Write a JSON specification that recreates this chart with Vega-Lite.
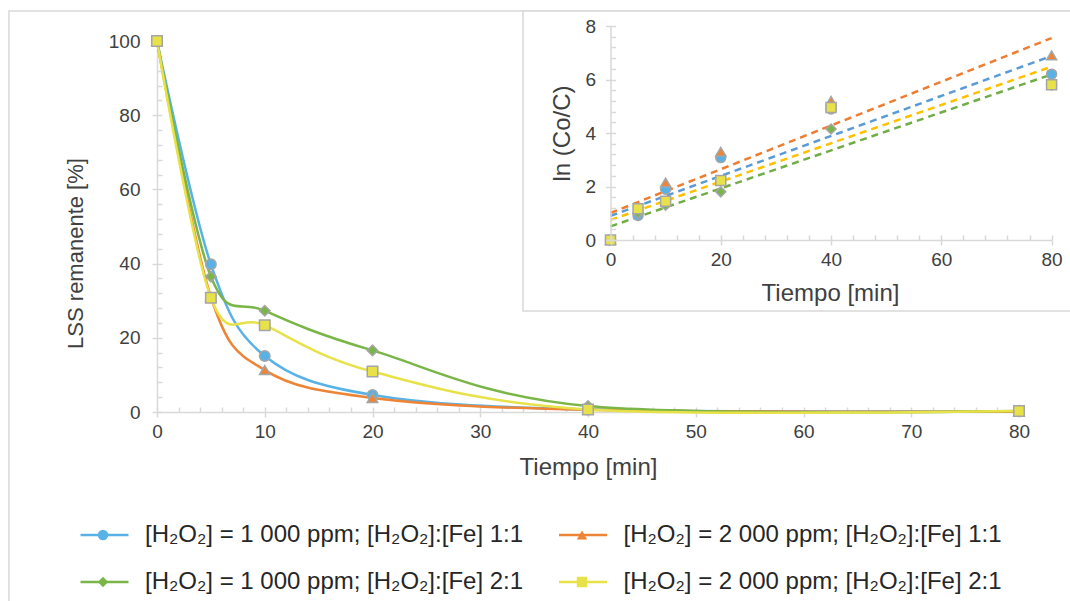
{
  "$schema": "https://vega.github.io/schema/vega-lite/v6.json",
  "width": 862,
  "height": 371,
  "autosize": {"type": "none"},
  "padding": {"left": 157, "top": 41, "right": 51, "bottom": 189},
  "background": "white",
  "config": {
    "font": "Liberation Sans",
    "view": {"stroke": null},
    "axis": {
      "domainColor": "#D9D9D9", "tickColor": "#D9D9D9", "domainWidth": 1.5, "tickWidth": 1.5,
      "labelColor": "#404040", "titleColor": "#404040", "labelFontSize": 19, "titleFontSize": 22,
      "titleFontWeight": "normal", "grid": false, "labelFont": "Liberation Sans", "titleFont": "Liberation Sans",
      "labelFlush": false, "labelOverlap": false
    },
    "legend": {"labelFont": "Liberation Sans"}
  },
  "datasets": {
    "main": [
      {"serie": "s1", "t": 0, "v": 100}, {"serie": "s1", "t": 5, "v": 39.8}, {"serie": "s1", "t": 10, "v": 15.1}, {"serie": "s1", "t": 20, "v": 4.6}, {"serie": "s1", "t": 40, "v": 0.7}, {"serie": "s1", "t": 80, "v": 0.2},
      {"serie": "s2", "t": 0, "v": 100}, {"serie": "s2", "t": 5, "v": 31}, {"serie": "s2", "t": 10, "v": 11.3}, {"serie": "s2", "t": 20, "v": 3.8}, {"serie": "s2", "t": 40, "v": 0.6}, {"serie": "s2", "t": 80, "v": 0.1},
      {"serie": "s3", "t": 0, "v": 100}, {"serie": "s3", "t": 5, "v": 36.5}, {"serie": "s3", "t": 10, "v": 27.3}, {"serie": "s3", "t": 20, "v": 16.6}, {"serie": "s3", "t": 40, "v": 1.6}, {"serie": "s3", "t": 80, "v": 0.3},
      {"serie": "s4", "t": 0, "v": 100}, {"serie": "s4", "t": 5, "v": 30.8}, {"serie": "s4", "t": 10, "v": 23.4}, {"serie": "s4", "t": 20, "v": 10.9}, {"serie": "s4", "t": 40, "v": 0.7}, {"serie": "s4", "t": 80, "v": 0.3}
    ],
    "inset": [
      {"serie": "s1", "t": 0, "v": 0}, {"serie": "s1", "t": 5, "v": 0.92}, {"serie": "s1", "t": 10, "v": 1.9}, {"serie": "s1", "t": 20, "v": 3.08}, {"serie": "s1", "t": 40, "v": 4.9}, {"serie": "s1", "t": 80, "v": 6.2},
      {"serie": "s2", "t": 0, "v": 0}, {"serie": "s2", "t": 5, "v": 1.17}, {"serie": "s2", "t": 10, "v": 2.15}, {"serie": "s2", "t": 20, "v": 3.3}, {"serie": "s2", "t": 40, "v": 5.2}, {"serie": "s2", "t": 80, "v": 6.9},
      {"serie": "s3", "t": 0, "v": 0}, {"serie": "s3", "t": 5, "v": 1.0}, {"serie": "s3", "t": 10, "v": 1.3}, {"serie": "s3", "t": 20, "v": 1.8}, {"serie": "s3", "t": 40, "v": 4.15}, {"serie": "s3", "t": 80, "v": 5.8},
      {"serie": "s4", "t": 0, "v": 0}, {"serie": "s4", "t": 5, "v": 1.17}, {"serie": "s4", "t": 10, "v": 1.45}, {"serie": "s4", "t": 20, "v": 2.22}, {"serie": "s4", "t": 40, "v": 4.95}, {"serie": "s4", "t": 80, "v": 5.8}
    ],
    "trend": [
      {"serie": "s1", "t": 0, "v": 0.9}, {"serie": "s1", "t": 80, "v": 6.88},
      {"serie": "s2", "t": 0, "v": 1.01}, {"serie": "s2", "t": 80, "v": 7.55},
      {"serie": "s3", "t": 0, "v": 0.51}, {"serie": "s3", "t": 80, "v": 6.19},
      {"serie": "s4", "t": 0, "v": 0.75}, {"serie": "s4", "t": 80, "v": 6.48}
    ],
    "one": [{}]
  },
  "layer": [
    {
      "layer": [
        {
          "data": {"name": "one"},
          "mark": {"type": "rect", "fill": null, "stroke": "#D9D9D9", "strokeWidth": 1.5},
          "encoding": {
            "x": {"datum": -13.74, "type": "quantitative", "scale": {"domain": [0, 80], "nice": false}, "axis": null},
            "x2": {"datum": 95},
            "y": {"datum": 108.1, "type": "quantitative", "scale": {"domain": [0, 100], "nice": false}, "axis": null},
            "y2": {"datum": -80}
          }
        },
        {
          "data": {"name": "main"},
          "mark": {"type": "line", "interpolate": "cardinal", "strokeWidth": 2.5},
          "encoding": {
            "x": {"field": "t", "type": "quantitative", "scale": {"domain": [0, 80], "nice": false},
              "axis": {"orient": "bottom", "values": [0, 10, 20, 30, 40, 50, 60, 70, 80], "tickSize": 5, "labelPadding": 5,
                "title": "Tiempo [min]", "titleFontSize": 24, "titleX": 431, "titleY": 55, "titleBaseline": "middle", "titleAlign": "center"}},
            "y": {"field": "v", "type": "quantitative", "scale": {"domain": [0, 100], "nice": false},
              "axis": {"orient": "left", "values": [0, 20, 40, 60, 80, 100], "tickSize": 5, "labelPadding": 12,
                "title": "LSS remanente [%]", "titleX": -82, "titleY": 212, "titleBaseline": "middle", "titleAlign": "center", "titleAngle": -90}},
            "stroke": {"field": "serie", "type": "nominal",
              "scale": {"domain": ["s1", "s2", "s3", "s4"], "range": ["#58B2E6", "#EE8436", "#7AB547", "#E8E24A"]},
              "legend": {"orient": "none", "legendX": -64.5, "legendY": 482, "columns": 2, "direction": "horizontal",
                "symbolType": "M-4.8,0H4.8", "symbolSize": 100, "symbolStrokeWidth": 2.5, "symbolFillColor": "transparent",
                "labelFontSize": 24, "labelColor": "#262626", "labelOffset": 28.5, "columnPadding": 30.5,
                "rowPadding": 23, "title": null, "padding": 0, "labelLimit": 0,
                "labelExpr": "datum.value == 's1' ? '[H₂O₂] = 1 000 ppm; [H₂O₂]:[Fe] 1:1' : datum.value == 's2' ? '[H₂O₂] = 2 000 ppm; [H₂O₂]:[Fe] 1:1' : datum.value == 's3' ? '[H₂O₂] = 1 000 ppm; [H₂O₂]:[Fe] 2:1' : '[H₂O₂] = 2 000 ppm; [H₂O₂]:[Fe] 2:1'"}}
          }
        },
        {
          "data": {"name": "main"},
          "mark": {"type": "point", "filled": true, "stroke": "#A5A5A5", "strokeWidth": 1.5, "opacity": 1, "size": 110},
          "encoding": {
            "x": {"field": "t", "type": "quantitative", "scale": {"domain": [0, 80], "nice": false},
              "axis": {"orient": "top", "offset": -371, "values": [0,2,4,6,8,10,12,14,16,18,20,22,24,26,28,30,32,34,36,38,40,42,44,46,48,50,52,54,56,58,60,62,64,66,68,70,72,74,76,78,80],
                "tickSize": 5, "labels": false, "domain": false, "title": null}},
            "y": {"field": "v", "type": "quantitative", "scale": {"domain": [0, 100], "nice": false},
              "axis": {"orient": "right", "offset": -862, "values": [0,4,8,12,16,20,24,28,32,36,40,44,48,52,56,60,64,68,72,76,80,84,88,92,96,100],
                "tickSize": 5, "labels": false, "domain": false, "title": null}},
            "fill": {"field": "serie", "type": "nominal", "scale": {"range": ["#58B2E6", "#EE8436", "#7AB547", "#E8E24A"]},
              "legend": {"orient": "none", "legendX": -66, "legendY": 482, "columns": 2, "direction": "horizontal", "symbolSize": 110, "symbolStrokeColor": "#A5A5A5",
                "symbolStrokeWidth": 1.5, "symbolOpacity": 1, "labelFontSize": 24, "labelOffset": 4, "columnPadding": 451,
                "rowPadding": 23, "title": null, "padding": 0, "labelLimit": 0, "labelExpr": "' '"}},
            "shape": {"field": "serie", "type": "nominal", "scale": {"range": ["circle", "triangle-up", "diamond", "square"]},
              "legend": {"orient": "none", "legendX": -66, "legendY": 482, "columns": 2, "direction": "horizontal", "symbolSize": 110, "symbolStrokeColor": "#A5A5A5",
                "symbolStrokeWidth": 1.5, "symbolOpacity": 1, "labelFontSize": 24, "labelOffset": 4, "columnPadding": 451,
                "rowPadding": 23, "title": null, "padding": 0, "labelLimit": 0, "labelExpr": "' '"}}
          }
        }
      ]
    },
    {
      "layer": [
        {
          "data": {"name": "one"},
          "mark": {"type": "rect", "fill": "white", "stroke": "#D9D9D9", "strokeWidth": 1.5},
          "encoding": {
            "x": {"datum": -15.87, "type": "quantitative", "scale": {"domain": [0, 80], "nice": false, "range": [453.5, 894.6]}, "axis": null},
            "x2": {"datum": 95},
            "y": {"datum": 8.56, "type": "quantitative", "scale": {"domain": [0, 8], "nice": false, "range": [199, -15]}, "axis": null},
            "y2": {"datum": -2.65}
          }
        },
        {
          "data": {"name": "trend"},
          "mark": {"type": "line", "strokeDash": [7, 5], "strokeWidth": 2.5},
          "encoding": {
            "x": {"field": "t", "type": "quantitative", "scale": {"domain": [0, 80], "nice": false, "range": [453.5, 894.6]},
              "axis": {"orient": "bottom", "offset": -172, "zindex": 1, "values": [0, 20, 40, 60, 80], "tickSize": 5, "labelPadding": 5,
                "title": "Tiempo [min]", "titleFontSize": 24, "titleX": 673, "titleY": 53, "titleBaseline": "middle", "titleAlign": "center"}},
            "y": {"field": "v", "type": "quantitative", "scale": {"domain": [0, 8], "nice": false, "range": [199, -15]},
              "axis": {"orient": "left", "offset": -453.5, "zindex": 1, "values": [0, 2, 4, 6, 8], "tickSize": 5, "labelPadding": 10,
                "title": "ln (Co/C)", "titleFontSize": 24, "titleX": -48.5, "titleY": 92, "titleBaseline": "middle", "titleAlign": "center", "titleAngle": -90}},
            "color": {"field": "serie", "type": "nominal",
              "scale": {"domain": ["s1", "s2", "s3", "s4"], "range": ["#5B9BD5", "#ED7D31", "#70AD47", "#FFC000"]}, "legend": null}
          }
        },
        {
          "data": {"name": "inset"},
          "mark": {"type": "point", "filled": true, "stroke": "#A5A5A5", "strokeWidth": 1.5, "opacity": 1, "size": 100},
          "encoding": {
            "x": {"field": "t", "type": "quantitative", "scale": {"domain": [0, 80], "nice": false, "range": [453.5, 894.6]},
              "axis": {"orient": "top", "offset": -199, "zindex": 1, "values": [0,4,8,12,16,20,24,28,32,36,40,44,48,52,56,60,64,68,72,76,80],
                "tickSize": 5, "labels": false, "domain": false, "title": null}},
            "y": {"field": "v", "type": "quantitative", "scale": {"domain": [0, 8], "nice": false, "range": [199, -15]},
              "axis": {"orient": "right", "offset": -408.5, "zindex": 1, "values": [0,0.4,0.8,1.2,1.6,2,2.4,2.8,3.2,3.6,4,4.4,4.8,5.2,5.6,6,6.4,6.8,7.2,7.6,8],
                "tickSize": 5, "labels": false, "domain": false, "title": null}},
            "fill": {"field": "serie", "type": "nominal"},
            "shape": {"field": "serie", "type": "nominal"}
          }
        }
      ]
    }
  ],
  "resolve": {"scale": {"x": "independent", "y": "independent"}, "axis": {"x": "independent", "y": "independent"}}
}
